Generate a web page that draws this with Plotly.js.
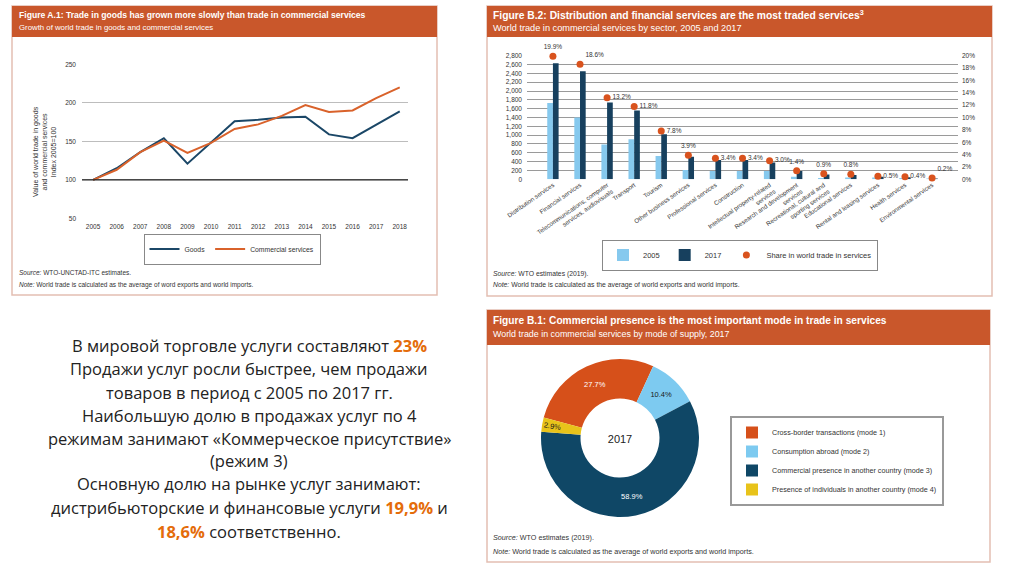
<!DOCTYPE html>
<html><head><meta charset="utf-8">
<script src="https://cdn.plot.ly/plotly-3.0.1.min.js"></script>
<style>html,body{margin:0;padding:0;background:#fff}#chart{width:1024px;height:576px}</style>
</head><body><div id="chart"></div>
<script>
// ---- Figure A.1 data ----
const years = [2005,2006,2007,2008,2009,2010,2011,2012,2013,2014,2015,2016,2017,2018];
const goodsIndex = [100,115,136,154,121,148,176,178,181,182,159,154,171,189];
const servicesIndex = [100,113,136,151,135,148,166,172,183,197,188,190,206,220];
const indexTicks = [50,100,150,200,250];

// ---- Figure B.2 data ----
const sectors = [
  'Distribution services','Financial services',
  'Telecommunications, computer<br>services, audiovisuals','Transport','Tourism',
  'Other business services','Professional services','Construction',
  'Intellectual property-related<br>services','Research and development<br>services',
  'Recreational, cultural and<br>sporting services','Educational services',
  'Rental and leasing services','Health services','Environmental services'];
const trade2005 = [1730,1400,790,910,530,210,190,190,190,60,30,40,40,30,20];
const trade2017 = [2630,2450,1740,1560,1020,510,440,440,380,190,110,100,60,45,20];
const shareWorld = [19.9,18.6,13.2,11.8,7.8,3.9,3.4,3.4,3.0,1.4,0.9,0.8,0.5,0.4,0.2];

// ---- Figure B.1 data ----
const modes = ['Cross-border transactions (mode 1)','Consumption abroad (mode 2)',
  'Commercial presence in another country (mode 3)','Presence of individuals in another country (mode 4)'];
const modeShare = [27.7,10.4,58.9,2.9];

const W=1024,H=576;
const px=x=>x/W, py=y=>1-y/H;
const FONT='Liberation Sans, Arial, sans-serif';
const HEAD='#c9572b', BORDER='#e3bfb2';
const NAVY='#1b4767', ORANGE='#d9622b';

const traces = [
  {x:years,y:goodsIndex,type:'scatter',mode:'lines',name:'Goods',line:{color:NAVY,width:2},xaxis:'x',yaxis:'y',legend:'legend'},
  {x:years,y:servicesIndex,type:'scatter',mode:'lines',name:'Commercial services',line:{color:ORANGE,width:2},xaxis:'x',yaxis:'y',legend:'legend'},
  {x:sectors,y:trade2005,type:'bar',name:'2005',marker:{color:'#86c9ee'},xaxis:'x2',yaxis:'y2',legend:'legend2'},
  {x:sectors,y:trade2017,type:'bar',name:'2017',marker:{color:'#17405e'},xaxis:'x2',yaxis:'y2',legend:'legend2'},
  {x:sectors,y:shareWorld,type:'scatter',mode:'markers+text',name:'Share in world trade in services',cliponaxis:false,
   marker:{color:'#d9531e',size:7},texttemplate:'%{y:.1f}%',
   textposition:['top center','top right','middle right','middle right','middle right','top center','middle right','middle right','middle right','top center','top center','top center','middle right','middle right','top right'],
   textfont:{size:6.5,color:'#333',family:FONT},xaxis:'x2',yaxis:'y3',legend:'legend2'},
  {type:'pie',labels:modes,values:modeShare,sort:false,direction:'clockwise',rotation:-75,hole:0.5,
   marker:{colors:['#d6501a','#7dcaf0','#0f4766','#e8c31a']},
   texttemplate:'%{value:.1f}%',textposition:'inside',insidetextorientation:'auto',
   insidetextfont:{size:7.5,family:FONT,color:['#fff','#1a1a1a','#fff','#1a1a1a']},
   title:{text:'2017',position:'middle center',font:{size:11,family:FONT,color:'#222'}},
   domain:{x:[px(541),px(699)],y:[py(517),py(359)]},legend:'legend3'}
];

const shapes = [];
function panel(x0,y0,x1,y1,hy){
  shapes.push({type:'rect',xref:'paper',yref:'paper',x0:px(x0),x1:px(x1),y0:py(y1),y1:py(y0),line:{color:BORDER,width:1.5},fillcolor:'#fff',layer:'below'});
  shapes.push({type:'rect',xref:'paper',yref:'paper',x0:px(x0),x1:px(x1),y0:py(hy),y1:py(y0),line:{width:0},fillcolor:HEAD,layer:'below'});
}
panel(12,6,437,295,37);
panel(487,6,992,296,37);
panel(487,310,990,562,345);
shapes.push({type:'line',xref:'paper',yref:'y',x0:px(82),x1:px(408),y0:100,y1:100,line:{color:'#222',width:1.3}});

const ann=[];
function txt(t,x,y,size,opts){
  ann.push(Object.assign({text:t,x:px(x),y:py(y),xref:'paper',yref:'paper',showarrow:false,xanchor:'left',yanchor:'middle',
    font:{family:FONT,size:size,color:'#333'}},opts||{}));
}
const wf=s=>({font:{family:FONT,size:s,color:'#fff'}});
// headers
txt('<b>Figure A.1: Trade in goods has grown more slowly than trade in commercial services</b>',17,15,8.6,wf(8.6));
txt('Growth of world trade in goods and commercial services',17,27,7.8,wf(7.8));
txt('<b>Figure B.2: Distribution and financial services are the most traded services<sup>3</sup></b>',491,15,10.3,wf(10.3));
txt('World trade in commercial services by sector, 2005 and 2017',491,28,9.2,wf(9.2));
txt('<b>Figure B.1: Commercial presence is the most important mode in trade in services</b>',491,320,10.2,wf(10.2));
txt('World trade in commercial services by mode of supply, 2017',491,334,8.9,wf(8.9));
// sources
txt('<i>Source:</i> WTO-UNCTAD-ITC estimates.',17,273,6.5);
txt('<i>Note:</i> World trade is calculated as the average of word exports and world imports.',17,285,6.5);
txt('<i>Source:</i> WTO estimates (2019).',491,274,6.8);
txt('<i>Note:</i> World trade is calculated as the average of world exports and world imports.',491,285,6.8);
txt('<i>Source:</i> WTO estimates (2019).',491,537,7.2);
txt('<i>Note:</i> World trade is calculated as the average of world exports and world imports.',491,551,7.2);
// A.1 y-axis title
ann.push({text:'Value of world trade in goods<br>and commercial services<br>Index 2005=100',x:px(45),y:py(152),xref:'paper',yref:'paper',
  xanchor:'center',yanchor:'middle',showarrow:false,textangle:-90,font:{family:FONT,size:7,color:'#333'},align:'center'});

// slide text
const OR='#e46c0a';
const hl=s=>'<span style="color:'+OR+'"><b>'+s+'</b></span>';
const lines=[
 'В мировой торговле услуги составляют '+hl('23%'),
 'Продажи услуг росли быстрее, чем продажи',
 'товаров в период с 2005 по 2017 гг.',
 'Наибольшую долю в продажах услуг по 4',
 'режимам занимают «Коммерческое присутствие»',
 '(режим 3)',
 'Основную долю на рынке услуг занимают:',
 'дистрибьюторские и финансовые услуги '+hl('19,9%')+' и',
 hl('18,6%')+' соответственно.'];
const ly=[345,368,392,415,438,460,483,507,531];
lines.forEach((l,i)=>ann.push({text:l,x:px(249),y:py(ly[i]),xref:'paper',yref:'paper',showarrow:false,xanchor:'center',yanchor:'middle',
  font:{family:'Open Sans, Noto Sans, sans-serif',size:16.5,color:'#222'}}));

const tickF={family:FONT,size:6.5,color:'#333'};
const layout={
  width:W,height:576,margin:{l:0,r:0,t:0,b:0},paper_bgcolor:'#fff',plot_bgcolor:'rgba(0,0,0,0)',
  font:{family:FONT},showlegend:true,
  xaxis:{domain:[px(82),px(408)],range:[2004.53,2018.35],tickvals:years,showgrid:false,zeroline:false,showline:false,ticks:'',ticklabelstandoff:3,tickfont:tickF,anchor:'y',automargin:false},
  yaxis:{domain:[py(218.3),py(64.3)],range:[50,250],tickvals:indexTicks,showgrid:true,gridcolor:'#bdbdbd',gridwidth:1,zeroline:false,ticklabelstandoff:5,tickfont:tickF,anchor:'x',automargin:false},
  xaxis2:{domain:[px(527),px(958)],type:'category',tickangle:-35,tickfont:{family:FONT,size:6.2,color:'#333'},showgrid:false,ticks:'',anchor:'y2',automargin:false},
  yaxis2:{domain:[py(179.3),py(55.7)],range:[0,2800],dtick:200,tickformat:',',showgrid:true,gridcolor:'#9a9a9a',zeroline:false,ticklabelstandoff:4,tickfont:tickF,anchor:'x2',automargin:false},
  yaxis3:{domain:[py(179.3),py(55.7)],range:[0,20],dtick:2,ticksuffix:'%',overlaying:'y2',side:'right',showgrid:false,zeroline:false,ticklabelstandoff:3,tickfont:tickF,anchor:'x2',automargin:false},
  barmode:'group',bargap:0.58,bargroupgap:0,
  legend:{x:px(232),y:py(249),xanchor:'center',yanchor:'middle',orientation:'h',itemwidth:30,bordercolor:'#888',borderwidth:1,font:{family:FONT,size:6.8,color:'#333'},bgcolor:'#fff'},
  legend2:{x:px(740),y:py(255),xanchor:'center',yanchor:'middle',orientation:'h',itemwidth:30,bordercolor:'#888',borderwidth:1,font:{family:FONT,size:7.5,color:'#333'},bgcolor:'#fff'},
  legend3:{x:px(730),y:py(416),xanchor:'left',yanchor:'top',orientation:'v',itemwidth:30,tracegroupgap:0,bordercolor:'#999',borderwidth:2,font:{family:FONT,size:7.2,color:'#333'},bgcolor:'#fff'},
  shapes:shapes,annotations:ann
};
Plotly.newPlot('chart',traces,layout,{staticPlot:true,displayModeBar:false});
</script></body></html>
